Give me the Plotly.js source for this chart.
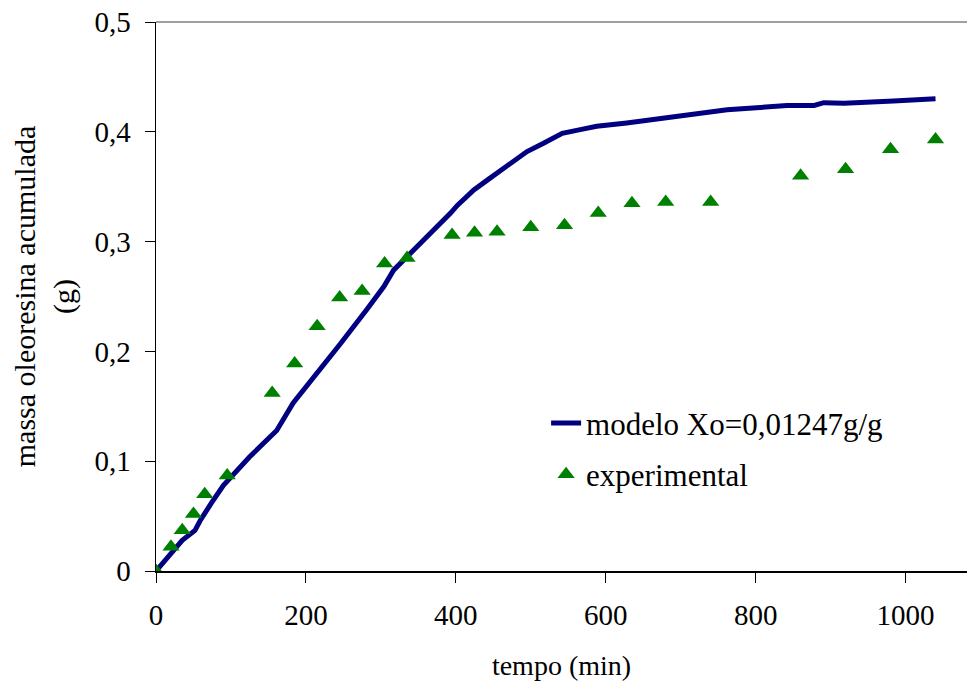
<!DOCTYPE html>
<html>
<head>
<meta charset="utf-8">
<script src="https://cdn.plot.ly/plotly-3.0.1.min.js"></script>
<style>html,body{margin:0;padding:0;background:#fff;}#chart{width:967px;height:684px;}</style>
</head>
<body>
<div id="chart"></div>
<script>
// Model curve
var modelTime = [0, 19, 35, 52, 59, 74, 90, 125, 161, 183, 215, 246, 281, 304, 317, 335, 344, 366, 393, 402, 424, 442, 459, 477, 495, 517, 542, 566, 588, 628, 664, 691, 735, 762, 842, 878, 891, 918, 984, 1040];
var modelMass = [0, 0.0146, 0.028, 0.037, 0.046, 0.062, 0.078, 0.104, 0.128, 0.153, 0.180, 0.207, 0.238, 0.259, 0.274, 0.286, 0.292, 0.3075, 0.326, 0.333, 0.347, 0.356, 0.364, 0.373, 0.382, 0.3895, 0.3986, 0.402, 0.405, 0.408, 0.411, 0.414, 0.418, 0.420, 0.424, 0.424, 0.4265, 0.426, 0.428, 0.430];
// Experimental points
var expTime = [0, 20, 35, 50, 65, 95, 155, 185, 215, 245, 275, 305, 335, 395, 425, 455, 500, 545, 590, 635, 680, 740, 860, 920, 980, 1040];
var expMass = [0, 0.022, 0.037, 0.052, 0.070, 0.087, 0.162, 0.189, 0.223, 0.249, 0.255, 0.280, 0.285, 0.306, 0.308, 0.309, 0.313, 0.315, 0.326, 0.335, 0.336, 0.336, 0.360, 0.366, 0.384, 0.393];

var seriesNames = ['modelo Xo=0,01247g/g', 'experimental'];
var xTickVals = [0, 200, 400, 600, 800, 1000];
var xTitle = 'tempo (min)';
var yTitle = 'massa oleoresina acumulada<br>(g)';

var FONT = 'Liberation Serif, Times New Roman, serif';

var traces = [
  {x: modelTime, y: modelMass, name: seriesNames[0], type: 'scatter', mode: 'lines',
   legendgroup: 'a', line: {color: '#000080', width: 5}},
  {x: expTime, y: expMass, name: seriesNames[1], type: 'scatter', mode: 'markers',
   legendgroup: 'b', marker: {symbol: 'triangle-up', color: '#008000', size: 15}}
];

var layout = {
  width: 967, height: 684,
  margin: {l: 156, r: 0, t: 22, b: 113},
  paper_bgcolor: '#ffffff', plot_bgcolor: '#ffffff',
  separators: ',.',
  font: {family: FONT, size: 29, color: '#000'},
  showlegend: true,
  legend: {x: 0.481, y: 0.318, xanchor: 'left', yanchor: 'top', bgcolor: 'rgba(0,0,0,0)',
           traceorder: 'grouped', tracegroupgap: 8,
           font: {family: FONT, size: 31, color: '#000'}},
  xaxis: {range: [0, 1082], tickvals: xTickVals, showgrid: false, zeroline: false,
          showline: true, linecolor: '#000', linewidth: 1.5, ticks: 'outside', ticklen: 10, tickcolor: '#000',
          tickfont: {family: FONT, size: 29}, ticklabelstandoff: 8,
          title: {text: xTitle, font: {family: FONT, size: 28}, standoff: 25}},
  yaxis: {range: [0, 0.5], dtick: 0.1, tick0: 0, showgrid: false, zeroline: false,
          showline: true, linecolor: '#000', linewidth: 1.5, ticks: 'outside', ticklen: 10, tickcolor: '#000',
          tickfont: {family: FONT, size: 29}, ticklabelstandoff: 8,
          title: {text: yTitle, font: {family: FONT, size: 30}, standoff: 11}},
  shapes: [{type: 'line', xref: 'paper', yref: 'paper', x0: 0, x1: 1, y0: 1, y1: 1,
            line: {color: '#a0a0a0', width: 2}}]
};

Plotly.newPlot('chart', traces, layout, {displayModeBar: false, staticPlot: true});
</script>
</body>
</html>
